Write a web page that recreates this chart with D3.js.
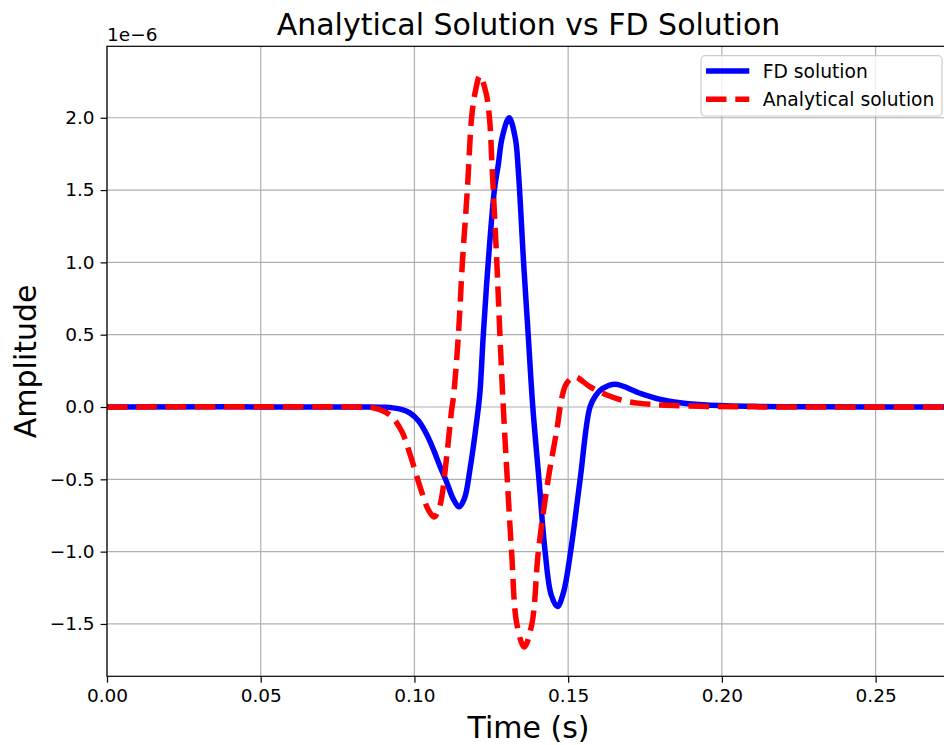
<!DOCTYPE html>
<html>
<head>
<meta charset="utf-8">
<script src="https://cdn.jsdelivr.net/npm/d3@7"></script>
<style>
  html, body { margin: 0; padding: 0; background: #fff; }
  svg { display: block; font-family: "DejaVu Sans", sans-serif; }
</style>
</head>
<body>
<svg id="chart" width="944" height="745"></svg>
<script>
// ---- data (amplitudes in units of 1e-6) ----
const fdTime = [0, 0.085, 0.090, 0.093, 0.096, 0.0986, 0.1013, 0.104, 0.1063, 0.1083, 0.1105, 0.1125, 0.1145, 0.1163, 0.118, 0.1203, 0.1213, 0.1224, 0.124, 0.126, 0.1273, 0.1285, 0.1308, 0.1328, 0.1338, 0.1355, 0.137, 0.1385, 0.1405, 0.1425, 0.1445, 0.1465, 0.1485, 0.1508, 0.1539, 0.1571, 0.1590, 0.1610, 0.1653, 0.1734, 0.18, 0.1864, 0.195, 0.212, 0.23, 0.2742];
const fdAmp  = [0, 0, -0.002, -0.006, -0.018, -0.042, -0.095, -0.19, -0.30, -0.41, -0.52, -0.63, -0.69, -0.63, -0.44, -0.09, 0.10, 0.50, 1.0, 1.5, 1.68, 1.86, 2.0, 1.86, 1.63, 1.0, 0.5, 0.0, -0.5, -1.0, -1.3, -1.38, -1.28, -1.0, -0.5, 0.0, 0.08, 0.125, 0.158, 0.095, 0.053, 0.03, 0.014, 0.004, 0.001, 0];

const anTime = [0, 0.082, 0.0866, 0.092, 0.0959, 0.0986, 0.1018, 0.1045, 0.1064, 0.1080, 0.1089, 0.1105, 0.1121, 0.1127, 0.1143, 0.1156, 0.1172, 0.1186, 0.1197, 0.1213, 0.1233, 0.1244, 0.1253, 0.1268, 0.1278, 0.1289, 0.1302, 0.1316, 0.1333, 0.1357, 0.1382, 0.1403, 0.1435, 0.1463, 0.148, 0.1495, 0.1522, 0.1571, 0.1626, 0.168, 0.1734, 0.182, 0.195, 0.21, 0.2742];
const anAmp  = [0, 0, -0.005, -0.055, -0.17, -0.33, -0.55, -0.71, -0.76, -0.70, -0.62, -0.34, -0.02, 0.07, 0.5, 1.0, 1.5, 2.0, 2.17, 2.29, 2.17, 2.0, 1.64, 1.0, 0.5, 0.0, -0.5, -1.0, -1.5, -1.66, -1.5, -1.0, -0.5, -0.16, 0.07, 0.164, 0.207, 0.14, 0.083, 0.044, 0.025, 0.012, 0.004, 0.001, 0];

const xTicks = [0, 0.05, 0.10, 0.15, 0.20, 0.25];
const yTicks = [-1.5, -1.0, -0.5, 0.0, 0.5, 1.0, 1.5, 2.0];
const seriesNames = ["FD solution", "Analytical solution"];
const titleText = "Analytical Solution vs FD Solution";
const xLabel = "Time (s)";
const yLabel = "Amplitude";
const offsetText = "1e\u22126";

// ---- layout ----
const L = 107, R = 950, T = 46.3, B = 676.3;
const svg = d3.select("#chart");

const x = d3.scaleLinear().domain([0, 0.2742]).range([L, R]);
const y = d3.scaleLinear().domain([-1.862, 2.494]).range([B, T]);

const fmtY = v => d3.format(".1f")(v).replace("-", "\u2212");
const fmtX = d3.format(".2f");

// grid
const grid = svg.append("g");
grid.selectAll("line.gx").data(xTicks).join("line")
  .attr("x1", d => x(d)).attr("x2", d => x(d)).attr("y1", T).attr("y2", B)
  .attr("stroke", "#b0b0b0").attr("stroke-width", 1.2);
grid.selectAll("line.gy").data(yTicks).join("line")
  .attr("y1", d => y(d)).attr("y2", d => y(d)).attr("x1", L).attr("x2", R)
  .attr("stroke", "#b0b0b0").attr("stroke-width", 1.2);

// clip
svg.append("defs").append("clipPath").attr("id", "clip")
  .append("rect").attr("x", L).attr("y", T).attr("width", R - L).attr("height", B - T);

const line = d3.line().x(d => x(d[0])).y(d => y(d[1])).curve(d3.curveCatmullRom.alpha(0.5));
const fdData = fdTime.map((t, i) => [t, fdAmp[i]]);
const anData = anTime.map((t, i) => [t, anAmp[i]]);

const plot = svg.append("g").attr("clip-path", "url(#clip)");
plot.append("path").datum(fdData).attr("d", line)
  .attr("fill", "none").attr("stroke", "#0000ff").attr("stroke-width", 5.5)
  .attr("stroke-linejoin", "round");
plot.append("path").datum(anData).attr("d", line)
  .attr("fill", "none").attr("stroke", "#ff0000").attr("stroke-width", 5.5)
  .attr("stroke-dasharray", "20.5,8.8").attr("stroke-linejoin", "round");

// axes
const xAxis = d3.axisBottom(x).tickValues(xTicks).tickFormat(fmtX).tickSize(6.4).tickPadding(6);
const yAxis = d3.axisLeft(y).tickValues(yTicks).tickFormat(fmtY).tickSize(6.4).tickPadding(6);

const gx = svg.append("g").attr("transform", `translate(0,${B})`).call(xAxis);
const gy = svg.append("g").attr("transform", `translate(${L},0)`).call(yAxis);
[gx, gy].forEach(g => {
  g.select(".domain").remove();
  g.selectAll(".tick line").attr("stroke", "#000").attr("stroke-width", 1.2);
  g.selectAll(".tick text").attr("fill", "#000").attr("font-size", 18.5)
    .attr("font-family", "DejaVu Sans");
});

// spines
svg.append("rect").attr("x", L).attr("y", T).attr("width", R - L).attr("height", B - T)
  .attr("fill", "none").attr("stroke", "#000").attr("stroke-width", 1.2);

// offset text
svg.append("text").attr("x", L).attr("y", 41).attr("font-size", 18.5).text(offsetText);

// title
svg.append("text").attr("x", (L + R) / 2).attr("y", 35).attr("text-anchor", "middle")
  .attr("font-size", 30).text(titleText);

// axis labels
svg.append("text").attr("x", (L + R) / 2).attr("y", 738).attr("text-anchor", "middle")
  .attr("font-size", 30).text(xLabel);
svg.append("text").attr("transform", `translate(36,${(T + B) / 2}) rotate(-90)`)
  .attr("text-anchor", "middle").attr("font-size", 30).text(yLabel);

// legend
const lg = svg.append("g");
lg.append("rect").attr("x", 701).attr("y", 55.7).attr("width", 241).attr("height", 60.3)
  .attr("rx", 4).attr("fill", "#fff").attr("fill-opacity", 0.8)
  .attr("stroke", "#cccccc").attr("stroke-width", 1.2);
const legItems = [
  {name: seriesNames[0], color: "#0000ff", dash: null, yy: 71},
  {name: seriesNames[1], color: "#ff0000", dash: "20.5,8.8", yy: 99.3}
];
legItems.forEach(it => {
  const l = lg.append("line").attr("x1", 706).attr("x2", 749.3).attr("y1", it.yy).attr("y2", it.yy)
    .attr("stroke", it.color).attr("stroke-width", 5.5);
  if (it.dash) l.attr("stroke-dasharray", it.dash);
  lg.append("text").attr("x", 762.7).attr("y", it.yy + 6.7).attr("font-size", 18.7).text(it.name);
});
</script>
</body>
</html>
